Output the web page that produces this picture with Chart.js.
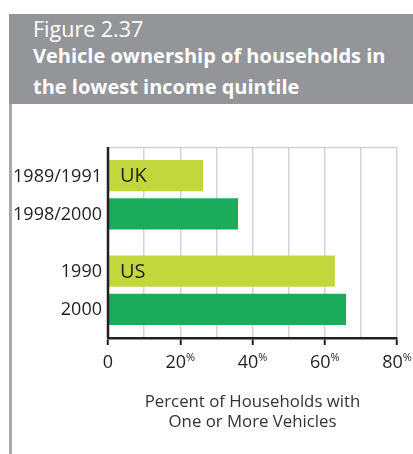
<!DOCTYPE html>
<html>
<head>
<meta charset="utf-8">
<script src="https://cdn.jsdelivr.net/npm/chart.js@4"></script>
<style>
  html, body { margin: 0; padding: 0; background: #fff; }
  body { width: 413px; height: 454px; position: relative; overflow: hidden; font-family: "Open Sans", sans-serif; }
  .header { position: absolute; left: 9px; top: 14px; width: 404px; height: 90px; background: #939598; color: #fff; }
  .header .fig { position: absolute; left: 24px; top: 2px; font-size: 21.5px; line-height: 26px; }
  .header .ttl { position: absolute; left: 24px; top: 26px; font-size: 20px; font-weight: 700; line-height: 31px; }
  .rule { position: absolute; left: 9px; top: 104px; width: 3px; height: 350px; background: #a7a9ac; }
  #wrap { position: absolute; left: 0; top: 0; width: 413px; height: 454px; }
</style>
</head>
<body>
<div class="header">
  <div class="fig">Figure 2.37</div>
  <div class="ttl">Vehicle ownership of households in<br>the lowest income quintile</div>
</div>
<div class="rule"></div>
<div id="wrap"><canvas id="chart"></canvas></div>
<script>
const countries = ['UK', 'US'];
const earlierPeriods = ['1989/1991', '1990'];
const laterPeriods = ['1998/2000', '2000'];
const earlierValues = [26.3, 62.8];
const laterValues = [36, 65.9];
const xTicks = [0, 20, 40, 60, 80];

const ink = '#231f20';

// year labels, country names, tick labels with the small superscript %
const decorations = {
  id: 'decorations',
  afterDraw(chart) {
    const ctx = chart.ctx;
    const area = chart.chartArea;
    const x = chart.scales.x;
    ctx.save();

    // top frame line of the grid
    ctx.strokeStyle = '#d1d3d4';
    ctx.lineWidth = 1.5;
    ctx.beginPath();
    ctx.moveTo(area.left, area.top + 0.5);
    ctx.lineTo(area.right, area.top + 0.5);
    ctx.stroke();

    // left axis line
    ctx.strokeStyle = ink;
    ctx.lineWidth = 2.5;
    ctx.beginPath();
    ctx.moveTo(area.left, area.top);
    ctx.lineTo(area.left, area.bottom);
    ctx.stroke();

    ctx.fillStyle = ink;
    ctx.textBaseline = 'middle';
    const periods = [earlierPeriods, laterPeriods];
    chart.data.datasets.forEach((ds, di) => {
      chart.getDatasetMeta(di).data.forEach((bar, i) => {
        ctx.font = '18px "Open Sans"';
        ctx.textAlign = 'right';
        ctx.fillText(periods[di][i], area.left - 6, bar.y + 1);
        if (di === 0) {
          ctx.font = '20px "Open Sans"';
          ctx.textAlign = 'left';
          ctx.fillText(countries[i], area.left + 12, bar.y + 1);
        }
      });
    });

    // x tick labels
    xTicks.forEach(v => {
      const px = x.getPixelForValue(v);
      const y = 363;
      ctx.font = '18px "Open Sans"';
      if (v === 0) {
        ctx.textAlign = 'center';
        ctx.fillText('0', px, y);
        return;
      }
      const num = String(v);
      const nw = ctx.measureText(num).width;
      ctx.font = '11px "Open Sans"';
      const pw = ctx.measureText('%').width;
      const start = px - (nw + pw) / 2;
      ctx.textAlign = 'left';
      ctx.font = '18px "Open Sans"';
      ctx.fillText(num, start, y);
      ctx.font = '11px "Open Sans"';
      ctx.fillText('%', start + nw, y - 5);
    });
    ctx.restore();
  }
};

new Chart(document.getElementById('chart'), {
  type: 'bar',
  data: {
    labels: countries,
    datasets: [
      {
        label: 'earlier',
        data: earlierValues,
        backgroundColor: '#c2d73c',
        categoryPercentage: 0.8,
        barPercentage: 0.816
      },
      {
        label: 'later',
        data: laterValues,
        backgroundColor: '#1aac5a',
        categoryPercentage: 0.8,
        barPercentage: 0.816
      }
    ]
  },
  options: {
    indexAxis: 'y',
    responsive: true,
    maintainAspectRatio: false,
    animation: false,
    layout: {
      padding: { left: 108, right: 16, top: 147, bottom: 22 }
    },
    plugins: {
      legend: { display: false },
      tooltip: { enabled: false },
      title: { display: false }
    },
    scales: {
      x: {
        min: 0,
        max: 80,
        ticks: { stepSize: 10, display: false },
        grid: {
          color: ctx => ctx.tick && ctx.tick.value === 0 ? 'transparent' : '#d1d3d4',
          lineWidth: 1.5,
          drawTicks: true,
          tickLength: 7,
          tickWidth: 2,
          tickColor: ctx => ctx.tick && ctx.tick.value % 20 === 0 ? ink : 'transparent'
        },
        border: { display: true, color: ink, width: 2.5 },
        title: {
          display: true,
          text: ['Percent of Households with', 'One or More Vehicles'],
          color: '#333',
          font: { family: '"Open Sans"', size: 16.8, lineHeight: '20px' },
          padding: { top: 47, bottom: 0 }
        }
      },
      y: {
        display: false,
        offset: true
      }
    }
  },
  plugins: [decorations]
});
</script>
</body>
</html>
